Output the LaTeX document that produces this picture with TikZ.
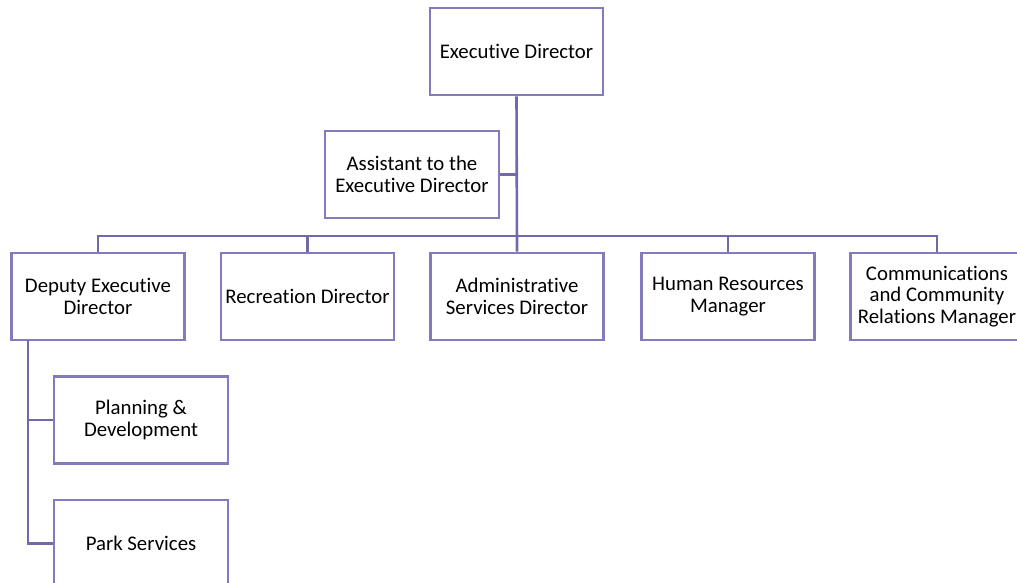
\documentclass[tikz,border=0pt]{standalone}
\usepackage{fontspec}
\setmainfont{Carlito}[Ligatures={NoCommon}]
\definecolor{boxc}{RGB}{130,124,190}
\definecolor{linec}{RGB}{114,104,170}
\begin{document}
\begin{tikzpicture}[x=1pt,y=-1pt,
  box/.style={draw=boxc,line width=2.6pt,fill=white,minimum width=173pt,minimum height=87pt,
    inner sep=0pt,align=center,font=\fontsize{20.8}{21.7}\selectfont},
  conn/.style={draw=linec,line width=2.6pt}]
\useasboundingbox (0,0) rectangle (1017,583);
\node[box] (ed) at (516.5,51.5) {Executive Director};
\node[box,minimum width=174pt] (asst) at (412,174.5) {Assistant to the\\Executive Director};
\node[box] (dep) at (98,296.5) {Deputy Executive\\Director};
\node[box] (rec) at (307.5,296.5) {Recreation Director};
\node[box] (adm) at (517,296.5) {Administrative\\Services Director};
\node[box] (hr) at (728,296.5) {Human Resources\\Manager};
\node[box] (com) at (937,296.5) {Communications\\and Community\\Relations Manager};
\node[box,minimum width=174pt] (plan) at (141,420) {Planning \&\\Development};
\node[box,minimum width=174pt] (park) at (141,543.5) {Park Services};
\coordinate (bus) at (517,236);
\coordinate (dl) at (28,340);
\draw[conn] (ed.south) -- (adm.north);
\draw[conn] (asst.east) -- (asst.east -| bus);
\draw[conn] (dep.north) |- (bus) -| (com.north);
\draw[conn] (rec.north) -- (rec.north |- bus);
\draw[conn] (hr.north) -- (hr.north |- bus);
\draw[conn] (dl) |- (park.west);
\draw[conn] (dl |- plan.west) -- (plan.west);
\end{tikzpicture}
\end{document}
